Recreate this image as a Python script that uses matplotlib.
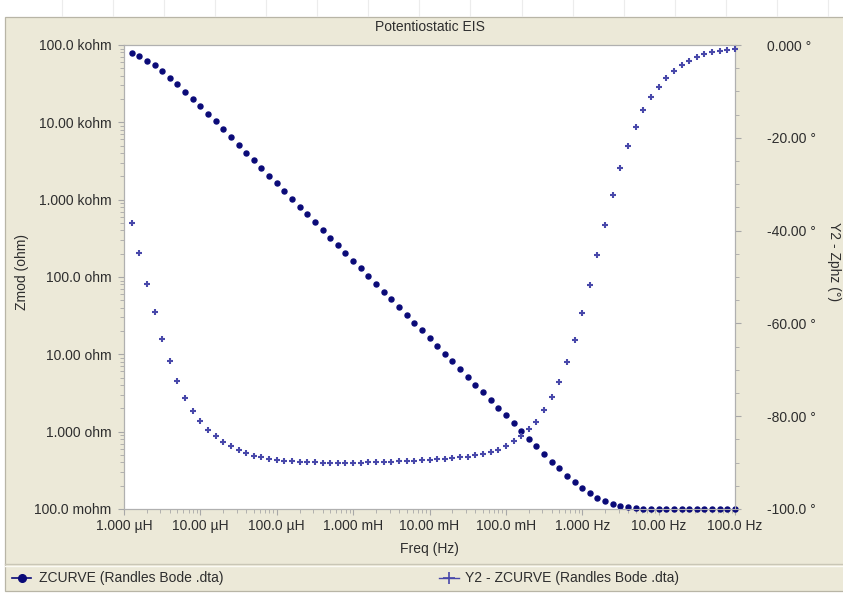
import matplotlib
matplotlib.use("Agg")
import matplotlib.pyplot as plt
from matplotlib.patches import Rectangle
from matplotlib.lines import Line2D
from matplotlib.ticker import FixedLocator, FixedFormatter, MultipleLocator, LogLocator, NullFormatter

plt.rcParams['font.family'] = ['Liberation Sans', 'DejaVu Sans']

# frequencies (Hz), 10 points per decade
freq = [1.26e-6, 1.58e-6, 2.00e-6, 2.51e-6, 3.16e-6, 3.98e-6, 5.01e-6, 6.31e-6, 7.94e-6, 1.00e-5,
        1.26e-5, 1.58e-5, 2.00e-5, 2.51e-5, 3.16e-5, 3.98e-5, 5.01e-5, 6.31e-5, 7.94e-5, 1.00e-4,
        1.26e-4, 1.58e-4, 2.00e-4, 2.51e-4, 3.16e-4, 3.98e-4, 5.01e-4, 6.31e-4, 7.94e-4, 1.00e-3,
        1.26e-3, 1.58e-3, 2.00e-3, 2.51e-3, 3.16e-3, 3.98e-3, 5.01e-3, 6.31e-3, 7.94e-3, 1.00e-2,
        1.26e-2, 1.58e-2, 2.00e-2, 2.51e-2, 3.16e-2, 3.98e-2, 5.01e-2, 6.31e-2, 7.94e-2, 1.00e-1,
        1.26e-1, 1.58e-1, 2.00e-1, 2.51e-1, 3.16e-1, 3.98e-1, 5.01e-1, 6.31e-1, 7.94e-1, 1.00,
        1.26, 1.58, 2.00, 2.51, 3.16, 3.98, 5.01, 6.31, 7.94, 10.0,
        12.6, 15.8, 20.0, 25.1, 31.6, 39.8, 50.1, 63.1, 79.4, 100.0]

# |Z| in ohm
zmod = [79600, 72100, 62700, 55200, 46200, 37500, 31400, 24800, 20100, 16300,
        12900, 10400, 8130, 6440, 5130, 4070, 3240, 2570, 2040, 1620,
        1290, 1020, 813, 646, 513, 407, 324, 257, 204, 162,
        129, 102, 81.3, 64.6, 51.3, 40.7, 32.4, 25.7, 20.4, 16.2,
        12.9, 10.2, 8.13, 6.46, 5.13, 4.07, 3.24, 2.57, 2.04, 1.62,
        1.29, 1.02, 0.813, 0.646, 0.513, 0.407, 0.335, 0.269, 0.224, 0.186,
        0.159, 0.140, 0.126, 0.116, 0.110, 0.105, 0.102, 0.100, 0.100, 0.100,
        0.100, 0.100, 0.100, 0.100, 0.100, 0.100, 0.100, 0.100, 0.100, 0.100]

# phase in degrees
zphz = [-38.3, -44.9, -51.5, -57.6, -63.3, -68.1, -72.4, -76.0, -78.9, -81.0,
        -82.9, -84.2, -85.5, -86.5, -87.3, -88.0, -88.5, -88.9, -89.2, -89.4,
        -89.6, -89.7, -89.8, -89.9, -89.9, -90.0, -90.0, -90.0, -90.0, -90.0,
        -90.0, -89.9, -89.9, -89.8, -89.8, -89.7, -89.6, -89.6, -89.5, -89.4,
        -89.3, -89.2, -89.0, -88.9, -88.7, -88.4, -88.1, -87.7, -87.2, -86.4,
        -85.4, -84.2, -82.8, -81.2, -78.7, -75.8, -72.7, -68.3, -63.6, -57.7,
        -51.7, -45.2, -38.7, -32.3, -26.5, -21.7, -17.6, -14.0, -11.2, -9.0,
        -7.2, -5.6, -4.3, -3.4, -2.5, -2.0, -1.6, -1.3, -1.1, -0.9]

x_ticks = [1e-6, 1e-5, 1e-4, 1e-3, 1e-2, 1e-1, 1, 10, 100]
x_labels = ['1.000 µH', '10.00 µH', '100.0 µH', '1.000 mH', '10.00 mH', '100.0 mH',
            '1.000 Hz', '10.00 Hz', '100.0 Hz']
z_ticks = [0.1, 1, 10, 100, 1e3, 1e4, 1e5]
z_labels = ['100.0 mohm', '1.000 ohm', '10.00 ohm', '100.0 ohm', '1.000 kohm',
            '10.00 kohm', '100.0 kohm']
p_ticks = [-100, -80, -60, -40, -20, 0]
p_labels = ['-100.0 °', '-80.00 °', '-60.00 °', '-40.00 °', '-20.00 °', '0.000 °']

W, H = 843, 593
beige = '#ECE9D8'
txt = '#2e2e2e'
tickc = '#a8a8a8'
zcol = '#0a0a78'
pcol = '#4848aa'
fs = 10


def fx(px):
    return px / W


def fy(py):
    return 1 - py / H


fig = plt.figure(figsize=(W / 100, H / 100), dpi=100, facecolor='white')

# faint sheet lines at the very top
for xl in [62, 113, 164, 215, 266, 317, 368, 419, 470, 522, 573, 624, 675, 726, 777, 828]:
    fig.add_artist(Line2D([fx(xl), fx(xl)], [fy(0), fy(16)], color='#ececec', lw=0.8))

# beige panel
fig.add_artist(Rectangle((fx(5), fy(591)), fx(W + 5) - fx(5), fy(17) - fy(591),
                         facecolor=beige, edgecolor='#b8b5a6', lw=0.9, zorder=0))
fig.add_artist(Line2D([fx(5), fx(W)], [fy(564), fy(564)], color='#c9c6b6', lw=1.0))
fig.add_artist(Line2D([fx(5), fx(W)], [fy(566), fy(566)], color='#fbfaf4', lw=1.0))

left, right, top, bottom = 124, 735, 45, 509
ax = fig.add_axes([fx(left), fy(bottom), fx(right) - fx(left), fy(top) - fy(bottom)])
ax.set_facecolor('white')
ax.set_xscale('log')
ax.set_yscale('log')
ax.set_xlim(1e-6, 100)
ax.set_ylim(0.1, 1e5)

ax2 = ax.twinx()
ax2.set_ylim(-100, 0)

ax2.plot(freq, zphz, '+', color=pcol, ms=4.2, mew=1.5, clip_on=False, zorder=3)
ax.plot(freq, zmod, 'o', color=zcol, ms=3.6, mec=zcol, clip_on=False, zorder=4)

ax.xaxis.set_major_locator(FixedLocator(x_ticks))
ax.xaxis.set_major_formatter(FixedFormatter(x_labels))
ax.xaxis.set_minor_locator(LogLocator(base=10, subs=range(2, 10), numticks=20))
ax.xaxis.set_minor_formatter(NullFormatter())
ax.yaxis.set_major_locator(FixedLocator(z_ticks))
ax.yaxis.set_major_formatter(FixedFormatter(z_labels))
ax.yaxis.set_minor_locator(LogLocator(base=10, subs=range(2, 10), numticks=20))
ax.yaxis.set_minor_formatter(NullFormatter())
ax2.yaxis.set_major_locator(FixedLocator(p_ticks))
ax2.yaxis.set_major_formatter(FixedFormatter(p_labels))
ax2.yaxis.set_minor_locator(MultipleLocator(5))

ax.tick_params(axis='x', which='both', direction='out', color=tickc, labelcolor=txt,
               labelsize=fs, pad=3)
ax.tick_params(axis='x', which='major', length=4)
ax.tick_params(axis='x', which='minor', length=3)
ax.tick_params(axis='y', which='both', direction='out', color=tickc, labelcolor=txt,
               labelsize=fs, pad=5)
ax.tick_params(axis='y', which='major', length=4)
ax.tick_params(axis='y', which='minor', length=3)
ax2.tick_params(axis='y', which='both', direction='out', color=tickc, labelcolor=txt,
                labelsize=fs, pad=19)
ax2.tick_params(axis='y', which='major', length=4)
ax2.tick_params(axis='y', which='minor', length=3)
for lab in ax2.get_yticklabels():
    lab.set_horizontalalignment('left')

for a in (ax, ax2):
    for s in a.spines.values():
        s.set_color('#b0b0b0')
        s.set_linewidth(0.8)

fig.text(fx(429.5), fy(27), 'Potentiostatic EIS', ha='center', va='center', fontsize=fs, color=txt)
fig.text(fx(429.5), fy(549), 'Freq (Hz)', ha='center', va='center', fontsize=fs, color=txt)
fig.text(fx(22), fy(272), 'Zmod (ohm)', ha='center', va='center', rotation=90, fontsize=fs, color=txt)
fig.text(fx(834), fy(262), 'Y2 - Zphz (°)', ha='center', va='center', rotation=-90, fontsize=fs, color=txt)

# legend row
fig.add_artist(Line2D([fx(12), fx(21.5), fx(31)], [fy(578)] * 3, color=zcol, lw=1.2,
                      marker='o', markevery=[1], ms=5.5))
fig.text(fx(39), fy(578), 'ZCURVE (Randles Bode .dta)', ha='left', va='center', fontsize=fs, color=txt)
fig.add_artist(Line2D([fx(439), fx(449), fx(459)], [fy(578)] * 3, color=pcol, lw=1.0,
                      marker='+', markevery=[1], ms=8, mew=1.2))
fig.text(fx(465), fy(578), 'Y2 - ZCURVE (Randles Bode .dta)', ha='left', va='center', fontsize=fs, color=txt)

fig.savefig('out.png', dpi=100, facecolor='white')
